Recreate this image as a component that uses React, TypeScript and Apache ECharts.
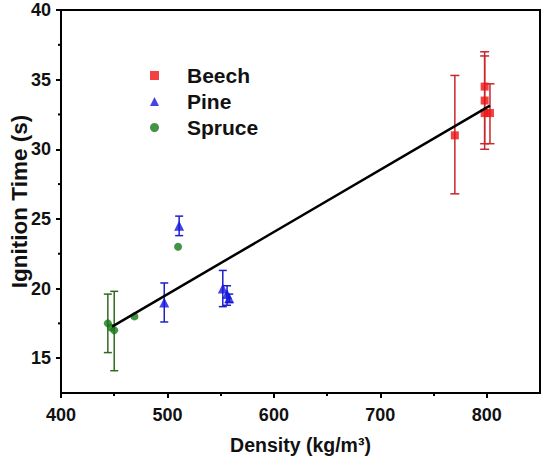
import React, { useEffect, useRef } from "react";
import * as echarts from "echarts";

// Beech
const beechX = [770, 798, 798, 798, 803];
const beechY = [31.0, 34.5, 33.5, 32.6, 32.6];
const beechLow = [26.8, 34.5, 30.0, 30.4, 30.4];
const beechHigh = [35.3, 34.5, 37.0, 36.7, 34.7];

// Pine
const pineX = [497, 511, 552, 556, 558];
const pineY = [19.0, 24.5, 20.0, 19.6, 19.3];
const pineLow = [17.6, 23.8, 18.7, 18.8, 19.0];
const pineHigh = [20.4, 25.2, 21.3, 20.2, 19.6];

// Spruce
const spruceX = [444, 447, 450, 469, 510];
const spruceY = [17.5, 17.2, 17.0, 18.0, 23.0];
const spruceLow = [15.4, 17.2, 14.1, 18.0, 23.0];
const spruceHigh = [19.6, 17.2, 19.8, 18.0, 23.0];

// Linear fit (endpoints)
const fitX = [448, 803];
const fitY = [17.27, 33.13];

const yLabels = [15, 20, 25, 30, 35, 40];
const yMinor = [17.5, 22.5, 27.5, 32.5, 37.5];
const xLabels = [400, 500, 600, 700, 800];

const FONT = "'Liberation Sans', Arial, sans-serif";

const zip = (xs: number[], ys: number[]) => xs.map((x, i) => [x, ys[i]]);
const zip3 = (xs: number[], lo: number[], hi: number[]) =>
  xs.map((x, i) => [x, lo[i], hi[i]]);

function errorSeries(data: number[][], color: string, cap: number) {
  return {
    type: "custom",
    silent: true,
    z: 1,
    encode: { x: 0, y: [1, 2] },
    data,
    renderItem: (params: any, api: any) => {
      const x = api.value(0);
      const lo = api.value(1);
      const hi = api.value(2);
      if (lo === hi) return null;
      const p1 = api.coord([x, lo]);
      const p2 = api.coord([x, hi]);
      const style = { stroke: color, lineWidth: 1.5, fill: "none" };
      return {
        type: "group",
        children: [
          { type: "line", shape: { x1: p1[0], y1: p1[1], x2: p2[0], y2: p2[1] }, style },
          { type: "line", shape: { x1: p1[0] - cap / 2, y1: p1[1], x2: p1[0] + cap / 2, y2: p1[1] }, style },
          { type: "line", shape: { x1: p2[0] - cap / 2, y1: p2[1], x2: p2[0] + cap / 2, y2: p2[1] }, style },
        ],
      };
    },
  };
}

export default function App() {
  const ref = useRef<HTMLDivElement>(null);
  useEffect(() => {
    if (!ref.current) return;
    const chart = echarts.init(ref.current, null, { renderer: "svg" });
    const labelStyle = { fontFamily: FONT, fontWeight: "bold" as const, fontSize: 18, color: "#111" };
    const axisLineStyle = { color: "#000", width: 2, opacity: 1 };
    chart.setOption({
      animation: false,
      backgroundColor: "#fff",
      grid: {
        left: 61,
        top: 10,
        right: 4,
        bottom: 68,
        outerBoundsMode: "none",
        containLabel: false,
        show: true,
        borderColor: "#000",
        borderWidth: 2,
        backgroundColor: "transparent",
        z: 10,
      },
      legend: {
        orient: "vertical",
        left: 145,
        top: 60,
        itemWidth: 9,
        itemHeight: 9,
        itemGap: 5,
        data: ["Beech", "Pine", "Spruce"],
        textStyle: {
          fontFamily: FONT,
          fontWeight: "bold",
          fontSize: 21,
          color: "#111",
          padding: [0, 0, 0, 23],
        },
      },
      xAxis: [
        {
          type: "value",
          min: 400,
          max: 850,
          position: "bottom",
          name: "Density (kg/m³)",
          nameLocation: "middle",
          nameGap: 42,
          nameMoveOverlap: false,
          nameTextStyle: { ...labelStyle, fontSize: 19.5 },
          axisLine: { show: true, onZero: false, lineStyle: axisLineStyle },
          axisTick: { show: true, customValues: xLabels, length: 5, lineStyle: axisLineStyle },
          axisLabel: { ...labelStyle, customValues: xLabels, margin: 13 },
          minorTick: { show: true, splitNumber: 2, length: 3, lineStyle: axisLineStyle },
          splitLine: { show: false },
          z: 10,
        },
      ],
      yAxis: [
        {
          type: "value",
          min: 12.5,
          max: 40,
          position: "left",
          name: "Ignition Time (s)",
          nameLocation: "middle",
          nameGap: 30,
          nameMoveOverlap: false,
          nameTextStyle: { ...labelStyle, fontSize: 22.5 },
          axisLine: { show: true, onZero: false, lineStyle: axisLineStyle },
          axisTick: { show: true, customValues: yLabels, length: 5, lineStyle: axisLineStyle },
          axisLabel: { ...labelStyle, customValues: yLabels, margin: 10 },
          splitLine: { show: false },
          z: 10,
        },
      ],
      series: [
        errorSeries(zip3(beechX, beechLow, beechHigh), "#c8262b", 9),
        errorSeries(zip3(pineX, pineLow, pineHigh), "#1f1fc8", 8),
        errorSeries(zip3(spruceX, spruceLow, spruceHigh), "#2f6a1d", 8),
        {
          name: "Beech",
          type: "scatter",
          symbol: "rect",
          symbolSize: 8,
          z: 3,
          itemStyle: { color: "#ee1111" },
          data: zip(beechX, beechY),
        },
        {
          name: "Pine",
          type: "scatter",
          symbol: "triangle",
          symbolSize: 10,
          z: 3,
          itemStyle: { color: "#1414e0" },
          data: zip(pineX, pineY),
        },
        {
          name: "Spruce",
          type: "scatter",
          symbol: "circle",
          symbolSize: 8,
          z: 3,
          itemStyle: { color: "#177817" },
          data: zip(spruceX, spruceY),
        },
        {
          type: "line",
          silent: true,
          z: 4,
          showSymbol: false,
          symbol: "none",
          lineStyle: { color: "#000", width: 2.5 },
          data: zip(fitX, fitY),
        },
        {
          // minor ticks on the y axis
          type: "custom",
          silent: true,
          z: 5,
          clip: false,
          data: yMinor.map((v) => [400, v]),
          encode: { x: 0, y: 1 },
          renderItem: (params: any, api: any) => {
            const p = api.coord([api.value(0), api.value(1)]);
            return {
              type: "line",
              shape: { x1: p[0] - 3, y1: p[1], x2: p[0], y2: p[1] },
              style: { stroke: "#000", lineWidth: 2 },
            };
          },
        },
      ],
    });
    return () => chart.dispose();
  }, []);
  return (
    <div
      ref={ref}
      style={{ position: "absolute", left: 0, top: 0, width: 544, height: 461 }}
    />
  );
}
